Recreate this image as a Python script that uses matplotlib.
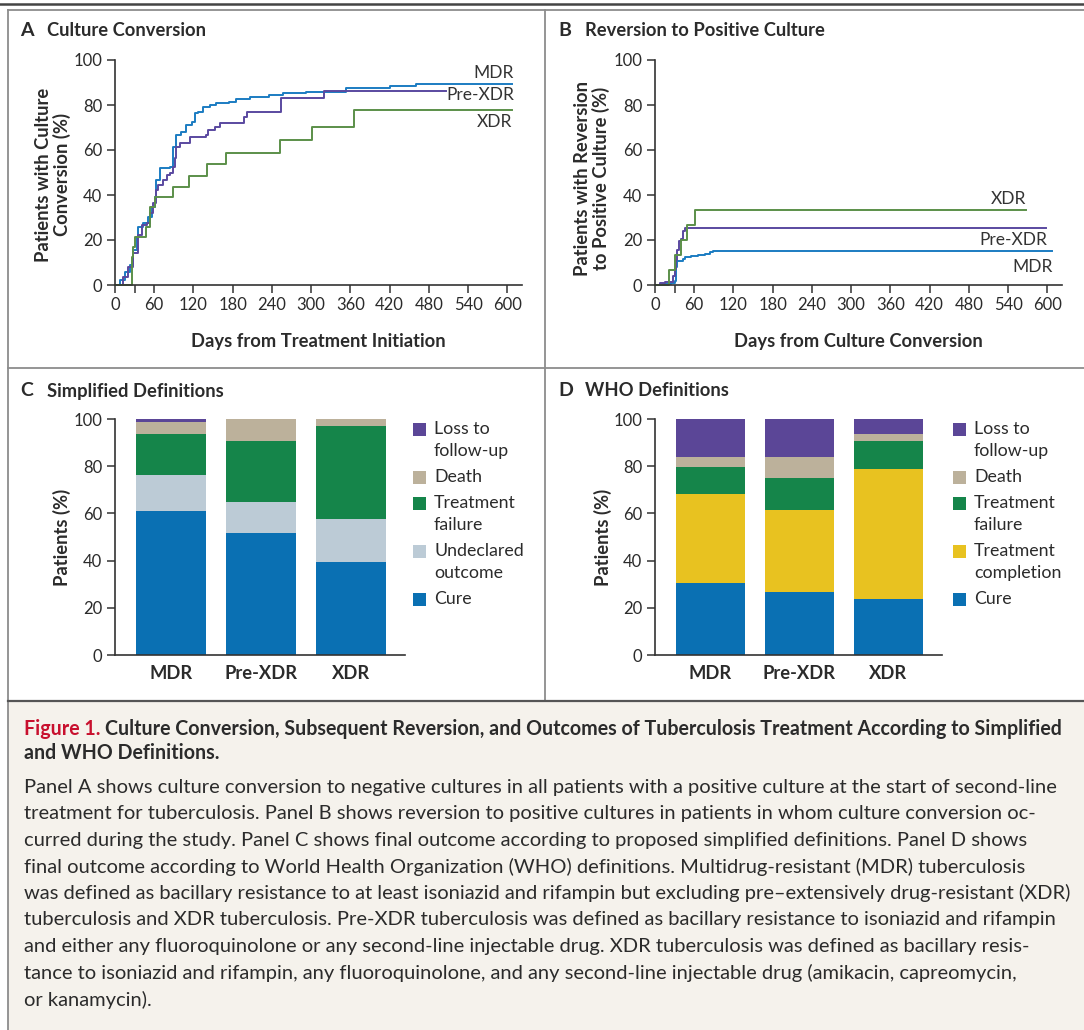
import matplotlib
matplotlib.use('Agg')
import matplotlib.pyplot as plt
from matplotlib.patches import Rectangle
from matplotlib.lines import Line2D

plt.rcParams['font.family'] = ['Lato', 'DejaVu Sans']
W, H = 1084, 1030

# ---- data ----
# Panel A: culture conversion (days, % converted), step curves
a_mdr_days = [0, 2.5, 7.6, 15.3, 22.9, 28, 33, 35.6, 43.2, 50.8, 55.9, 61, 62, 68.6, 83.9, 88, 89, 94,
              101.7, 109.3, 117, 122, 127, 134.7, 145, 155, 175, 185.6, 206, 236, 257, 292, 353, 420, 460, 607]
a_mdr_pct = [0, 0, 2.2, 5.9, 8.9, 15.6, 21.5, 25.9, 27.4, 30.4, 34.8, 39.3, 46.7, 51.9, 52.6, 54.8, 61.5, 66.7,
             68.1, 71.1, 72.6, 76.3, 77, 79.3, 80, 80.7, 81.5, 82.5, 83.7, 84.4, 85.2, 85.9, 87.4, 88.4, 89.3, 89.3]
a_pre_days = [0, 3.6, 12.7, 20.3, 27, 35.6, 40.7, 48.3, 53.4, 58.5, 62.5, 66, 73.7, 78.8, 83.9, 89, 91.5, 94,
              99, 114.4, 139.8, 142.3, 152.5, 160, 198, 202, 254, 320, 506]
a_pre_pct = [0, 0, 3.7, 8.1, 14.1, 22.2, 26.7, 27.4, 31.9, 36.3, 42.2, 44.4, 46.7, 48.9, 49.6, 52.6, 56.3, 61.5,
             63, 65.9, 66.7, 68.9, 70.4, 72.1, 74.8, 77, 83.3, 86.2, 86.2]
a_xdr_days = [0, 25.4, 28, 30.5, 47, 53, 61, 89, 113, 141, 170, 252, 302, 366, 607]
a_xdr_pct = [0, 12.6, 17, 21.5, 25.9, 34.8, 39, 43.7, 48.6, 53.6, 58.5, 64.4, 70.4, 77.8, 77.8]

# Panel B: reversion to positive culture
b_mdr_days = [0, 10, 25, 30, 32, 34, 43, 45.5, 55.7, 65.9, 76, 84, 88, 607]
b_mdr_pct = [0, 0.3, 0.8, 1.8, 8, 10.8, 11.4, 12.3, 12.9, 13.4, 13.8, 14.6, 14.9, 14.9]
b_pre_days = [0, 7, 15, 28, 30, 32, 34, 36, 40, 43, 46, 598]
b_pre_pct = [0, 0.7, 1.3, 4, 7, 11, 15.7, 19.5, 20.3, 24.2, 25.5, 25.5]
b_xdr_days = [0, 21, 30, 39, 49, 61, 567]
b_xdr_pct = [0, 6.7, 13.3, 20, 26.7, 33.3, 33.3]

groups = ['MDR', 'Pre-XDR', 'XDR']

# Panel C: simplified definitions (%)
c_cure = [61.2, 51.8, 39.5]
c_undeclared = [15.1, 13.2, 18.1]
c_failure = [17.3, 25.8, 39.6]
c_death = [5.3, 9.2, 2.8]
c_loss = [1.1, 0, 0]

# Panel D: WHO definitions (%)
d_cure = [30.6, 26.8, 23.9]
d_completion = [37.5, 34.6, 54.9]
d_failure = [11.4, 13.6, 11.9]
d_death = [4.3, 9.0, 3.1]
d_loss = [16.2, 16.0, 6.2]

day_ticks = [0, 30, 60, 120, 180, 240, 300, 360, 420, 480, 540, 600]
day_labels = ['0', '', '60', '120', '180', '240', '300', '360', '420', '480', '540', '600']
pct_ticks = [0, 20, 40, 60, 80, 100]

C_MDR, C_PRE, C_XDR = '#1b7cc2', '#5a49a0', '#5b8f49'
C_CURE, C_UND, C_FAIL = '#0a70b3', '#bccbd6', '#15854a'
C_DEATH, C_LOSS, C_COMP = '#bcb19b', '#5b4697', '#e8c220'
TXT = '#2b2b2b'
AX = '#333333'


def fx(x):
    return x / W


def fy(y):
    return 1 - y / H


fig = plt.figure(figsize=(W / 100, H / 100), dpi=100)

# frames
fig.add_artist(Line2D([0, 1], [fy(4), fy(4)], color='#444444', lw=1.8))
fig.add_artist(Rectangle((fx(8), 0), 1 - fx(8), fy(701), facecolor='#f5f2ec', edgecolor='none'))
grey = '#8c8c8c'
for seg in [([8, 1084], [10, 10]), ([8, 8], [10, 1030]), ([545, 545], [10, 701]),
            ([8, 1084], [368, 368])]:
    fig.add_artist(Line2D([fx(v) for v in seg[0]], [fy(v) for v in seg[1]], color=grey, lw=1.3))
fig.add_artist(Line2D([fx(8), 1], [fy(701), fy(701)], color='#555555', lw=1.6))


def style(ax):
    for s in ['top', 'right']:
        ax.spines[s].set_visible(False)
    for s in ['left', 'bottom']:
        ax.spines[s].set_color(AX)
        ax.spines[s].set_linewidth(1.2)
    ax.tick_params(direction='out', length=6, width=1.1, color=AX, labelsize=12,
                   labelcolor=TXT, pad=3)
    ax.set_facecolor('none')


def curve_panel(left, series, labels, xlabel, ylabel, ylab_x, ylab_y):
    ax = fig.add_axes([fx(left), fy(285), 406.7 / W, 225 / H])
    style(ax)
    for d, p, c in series:
        ax.plot(d, p, drawstyle='steps-post', color=c, lw=1.4, clip_on=False)
    for txt, xd, yd in labels:
        ax.text(xd, yd, txt, ha='right', va='center', fontsize=12.5, color='#333333')
    ax.set_xlim(0, 622)
    ax.set_ylim(0, 100)
    ax.set_xticks(day_ticks)
    ax.set_xticklabels(day_labels)
    ax.set_yticks(pct_ticks)
    ax.set_xlabel(xlabel, fontsize=13.2, fontweight='bold', color=TXT, labelpad=14)
    fig.text(fx(ylab_x), fy(ylab_y), ylabel, rotation=90, ha='center', va='center',
             fontsize=13.2, fontweight='bold', color=TXT, linespacing=1.1)
    return ax


curve_panel(115, [(a_mdr_days, a_mdr_pct, C_MDR), (a_pre_days, a_pre_pct, C_PRE), (a_xdr_days, a_xdr_pct, C_XDR)],
            [('MDR', 610, 94.3), ('Pre-XDR', 610, 84.5), ('XDR', 608, 72.5)],
            'Days from Treatment Initiation', 'Patients with Culture\nConversion (%)', 53, 175)
curve_panel(655, [(b_mdr_days, b_mdr_pct, C_MDR), (b_pre_days, b_pre_pct, C_PRE), (b_xdr_days, b_xdr_pct, C_XDR)],
            [('XDR', 567, 38), ('Pre-XDR', 600, 20), ('MDR', 608, 8)],
            'Days from Culture Conversion', 'Patients with Reversion\nto Positive Culture (%)', 592, 178)


def bar_panel(left, right, stacks, legend, ylab_x):
    ax = fig.add_axes([fx(left), fy(655), (right - left) / W, 236 / H])
    style(ax)
    xs = range(len(groups))
    bottom = [0] * len(groups)
    for vals, c in stacks:
        ax.bar(xs, vals, bottom=bottom, width=0.77, color=c, linewidth=0)
        bottom = [b + v for b, v in zip(bottom, vals)]
    ax.set_xlim(-0.62, 2.6)
    ax.set_ylim(0, 100)
    ax.set_yticks(pct_ticks)
    ax.set_xticks(list(xs))
    ax.set_xticklabels(groups, fontsize=13.2, fontweight='bold')
    ax.tick_params(axis='x', length=0, pad=7)
    fig.text(fx(ylab_x), fy(537), 'Patients (%)', rotation=90, ha='center', va='center',
             fontsize=13.2, fontweight='bold', color=TXT)
    # legend
    sq = left + 298
    y = 429
    for txt, c in legend:
        fig.add_artist(Rectangle((fx(sq), fy(y + 6.5)), 13 / W, 13 / H, facecolor=c, edgecolor='none'))
        for k, part in enumerate(txt.split('\n')):
            fig.text(fx(sq + 21), fy(y + 22 * k), part, ha='left', va='center', fontsize=12.8, color=TXT)
        y += 26 + 22 * txt.count('\n')
    return ax


bar_panel(115, 405, [(c_cure, C_CURE), (c_undeclared, C_UND), (c_failure, C_FAIL), (c_death, C_DEATH), (c_loss, C_LOSS)],
          [('Loss to\nfollow-up', C_LOSS), ('Death', C_DEATH), ('Treatment\nfailure', C_FAIL),
           ('Undeclared\noutcome', C_UND), ('Cure', C_CURE)], 62)
bar_panel(655, 942, [(d_cure, C_CURE), (d_completion, C_COMP), (d_failure, C_FAIL), (d_death, C_DEATH), (d_loss, C_LOSS)],
          [('Loss to\nfollow-up', C_LOSS), ('Death', C_DEATH), ('Treatment\nfailure', C_FAIL),
           ('Treatment\ncompletion', C_COMP), ('Cure', C_CURE)], 603)

# panel titles
for letter, title, x, y in [('A', 'Culture Conversion', 20, 31), ('B', 'Reversion to Positive Culture', 558, 31),
                            ('C', 'Simplified Definitions', 20, 391), ('D', 'WHO Definitions', 558, 391)]:
    fig.text(fx(x), fy(y), letter, fontsize=14, fontweight='bold', color=TXT, va='center')
    fig.text(fx(x + 27), fy(y), title, fontsize=13.2, fontweight='bold', color=TXT, va='center')

# caption
title1 = 'Culture Conversion, Subsequent Reversion, and Outcomes of Tuberculosis Treatment According to Simplified'
body = [
    'Panel A shows culture conversion to negative cultures in all patients with a positive culture at the start of second-line',
    'treatment for tuberculosis. Panel B shows reversion to positive cultures in patients in whom culture conversion oc-',
    'curred during the study. Panel C shows final outcome according to proposed simplified definitions. Panel D shows',
    'final outcome according to World Health Organization (WHO) definitions. Multidrug-resistant (MDR) tuberculosis',
    'was defined as bacillary resistance to at least isoniazid and rifampin but excluding pre\u2013extensively drug-resistant (XDR)',
    'tuberculosis and XDR tuberculosis. Pre-XDR tuberculosis was defined as bacillary resistance to isoniazid and rifampin',
    'and either any fluoroquinolone or any second-line injectable drug. XDR tuberculosis was defined as bacillary resis-',
    'tance to isoniazid and rifampin, any fluoroquinolone, and any second-line injectable drug (amikacin, capreomycin,',
    'or kanamycin).',
]

fig.canvas.draw()
r = fig.canvas.get_renderer()

# fit caption font sizes to the column width
probe = fig.text(0, 0, 'Figure 1. ' + title1, fontsize=10, fontweight='bold')
tsize = 10 * 1040 / probe.get_window_extent(r).width
probe.remove()
probe = fig.text(0, 0, body[0], fontsize=10)
bsize = 10 * 1032 / probe.get_window_extent(r).width
probe.remove()

t = fig.text(fx(24), fy(729), 'Figure 1.', fontsize=tsize, fontweight='bold', color='#c8102e', va='center')
bb = t.get_window_extent(r)
fig.text(bb.x1 / W + 5 / W, fy(729), title1, fontsize=tsize, fontweight='bold', color=TXT, va='center')
fig.text(fx(24), fy(753), 'and WHO Definitions.', fontsize=tsize, fontweight='bold', color=TXT, va='center')
for i, line in enumerate(body):
    fig.text(fx(24), fy(787 + i * 26.6), line, fontsize=bsize, color=TXT, va='center')

fig.savefig('out.png', dpi=100)
